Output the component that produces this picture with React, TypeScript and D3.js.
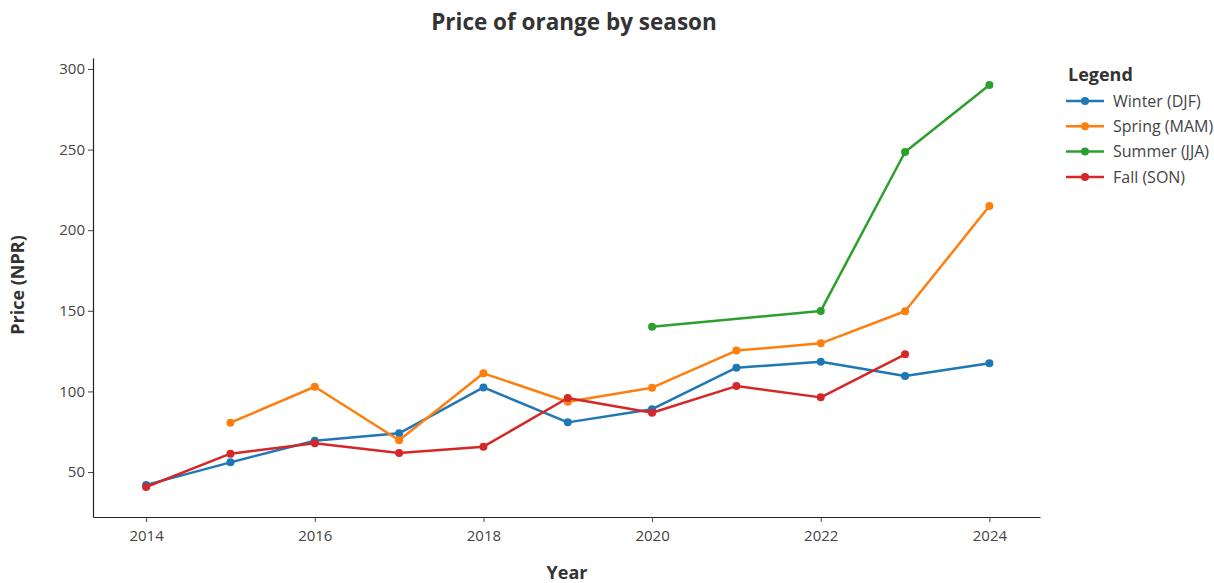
import { useRef, useEffect } from 'react'
import * as d3 from 'd3'

const years = [2014, 2015, 2016, 2017, 2018, 2019, 2020, 2021, 2022, 2023, 2024]
const winter = [42, 56, 69.4, 74, 102.5, 80.8, 89, 114.7, 118.4, 109.6, 117.4]
const spring = [null, 80.6, 102.9, 69.7, 111.2, 93.6, 102.3, 125.3, 129.8, 149.7, 215]
const summer = [null, null, null, null, null, null, 140.1, null, 149.9, 248.5, 290]
const fall = [40.7, 61.4, 67.8, 61.8, 65.7, 95.9, 86.8, 103.3, 96.3, 123, null]
const seriesNames = ['Winter (DJF)', 'Spring (MAM)', 'Summer (JJA)', 'Fall (SON)']
const seriesColors = ['#1f77b4', '#ff7f0e', '#2ca02c', '#d62728']
const xTicks = [2014, 2016, 2018, 2020, 2022, 2024]
const yTicks = [50, 100, 150, 200, 250, 300]

const FONT = '"Open Sans", "Noto Sans", sans-serif'

export default function App() {
  const svgRef = useRef<SVGSVGElement>(null)

  useEffect(() => {
    if (!svgRef.current) return
    const W = 1214
    const H = 583
    const svg = d3.select(svgRef.current)
    svg.selectAll('*').remove()
    svg.attr('width', W).attr('height', H)

    const left = 93
    const right = 1040
    const top = 58
    const bottom = 517

    const x = d3.scaleLinear().domain([2013.37, 2024.6]).range([left, right])
    const y = d3.scaleLinear().domain([22.1, 306.8]).range([bottom, top])

    // title
    svg.append('text')
      .attr('x', 574).attr('y', 30)
      .attr('text-anchor', 'middle')
      .attr('font-family', FONT).attr('font-size', 22.5).attr('font-weight', 700)
      .attr('fill', '#333')
      .text('Price of orange by season')

    // axes
    const xAxis = svg.append('g')
      .attr('transform', `translate(0,${bottom})`)
      .call(d3.axisBottom(x).tickValues(xTicks).tickFormat(d3.format('d')).tickSize(5).tickSizeOuter(0))
    const yAxis = svg.append('g')
      .attr('transform', `translate(${left},0)`)
      .call(d3.axisLeft(y).tickValues(yTicks).tickSize(5).tickSizeOuter(0))

    for (const ax of [xAxis, yAxis]) {
      ax.select('.domain').attr('stroke', '#222').attr('stroke-width', 1.2)
      ax.selectAll('.tick line').attr('stroke', '#444')
      ax.selectAll('.tick text')
        .attr('font-family', FONT).attr('font-size', 15).attr('fill', '#444')
    }
    xAxis.selectAll('.tick text').attr('y', 13).attr('dy', '0.71em')
    yAxis.selectAll('.tick text').attr('x', -8)

    // axis titles
    svg.append('text')
      .attr('x', 567).attr('y', 579)
      .attr('text-anchor', 'middle')
      .attr('font-family', FONT).attr('font-size', 18).attr('font-weight', 700)
      .attr('fill', '#333')
      .text('Year')
    svg.append('text')
      .attr('transform', `translate(24,285) rotate(-90)`)
      .attr('text-anchor', 'middle')
      .attr('font-family', FONT).attr('font-size', 18).attr('font-weight', 700)
      .attr('fill', '#333')
      .text('Price (NPR)')

    const allSeries = [winter, spring, summer, fall]
    const line = d3.line<[number, number]>().x(d => x(d[0])).y(d => y(d[1]))

    allSeries.forEach((vals, i) => {
      const pts = years
        .map((yr, j) => [yr, vals[j]] as [number, number | null])
        .filter(d => d[1] != null) as [number, number][]
      svg.append('path')
        .attr('d', line(pts) ?? '')
        .attr('fill', 'none')
        .attr('stroke', seriesColors[i])
        .attr('stroke-width', 2.5)
        .attr('stroke-linejoin', 'round')
      svg.append('g').selectAll('circle').data(pts).join('circle')
        .attr('cx', d => x(d[0])).attr('cy', d => y(d[1]))
        .attr('r', 4)
        .attr('fill', seriesColors[i])
    })

    // legend
    const lg = svg.append('g').attr('transform', 'translate(1066,0)')
    lg.append('text')
      .attr('x', 2).attr('y', 81)
      .attr('font-family', FONT).attr('font-size', 18).attr('font-weight', 700)
      .attr('fill', '#333')
      .text('Legend')
    seriesNames.forEach((name, i) => {
      const cy = 101 + i * 25.3
      lg.append('line')
        .attr('x1', 0).attr('x2', 38).attr('y1', cy).attr('y2', cy)
        .attr('stroke', seriesColors[i]).attr('stroke-width', 2.5)
      lg.append('circle').attr('cx', 19).attr('cy', cy).attr('r', 4).attr('fill', seriesColors[i])
      lg.append('text')
        .attr('x', 47).attr('y', cy).attr('dy', '0.35em')
        .attr('font-family', FONT).attr('font-size', 16).attr('fill', '#444')
        .text(name)
    })
  }, [])

  return (
    <div style={{ position: 'absolute', left: 0, top: 0 }}>
      <svg ref={svgRef} style={{ display: 'block' }} />
    </div>
  )
}
